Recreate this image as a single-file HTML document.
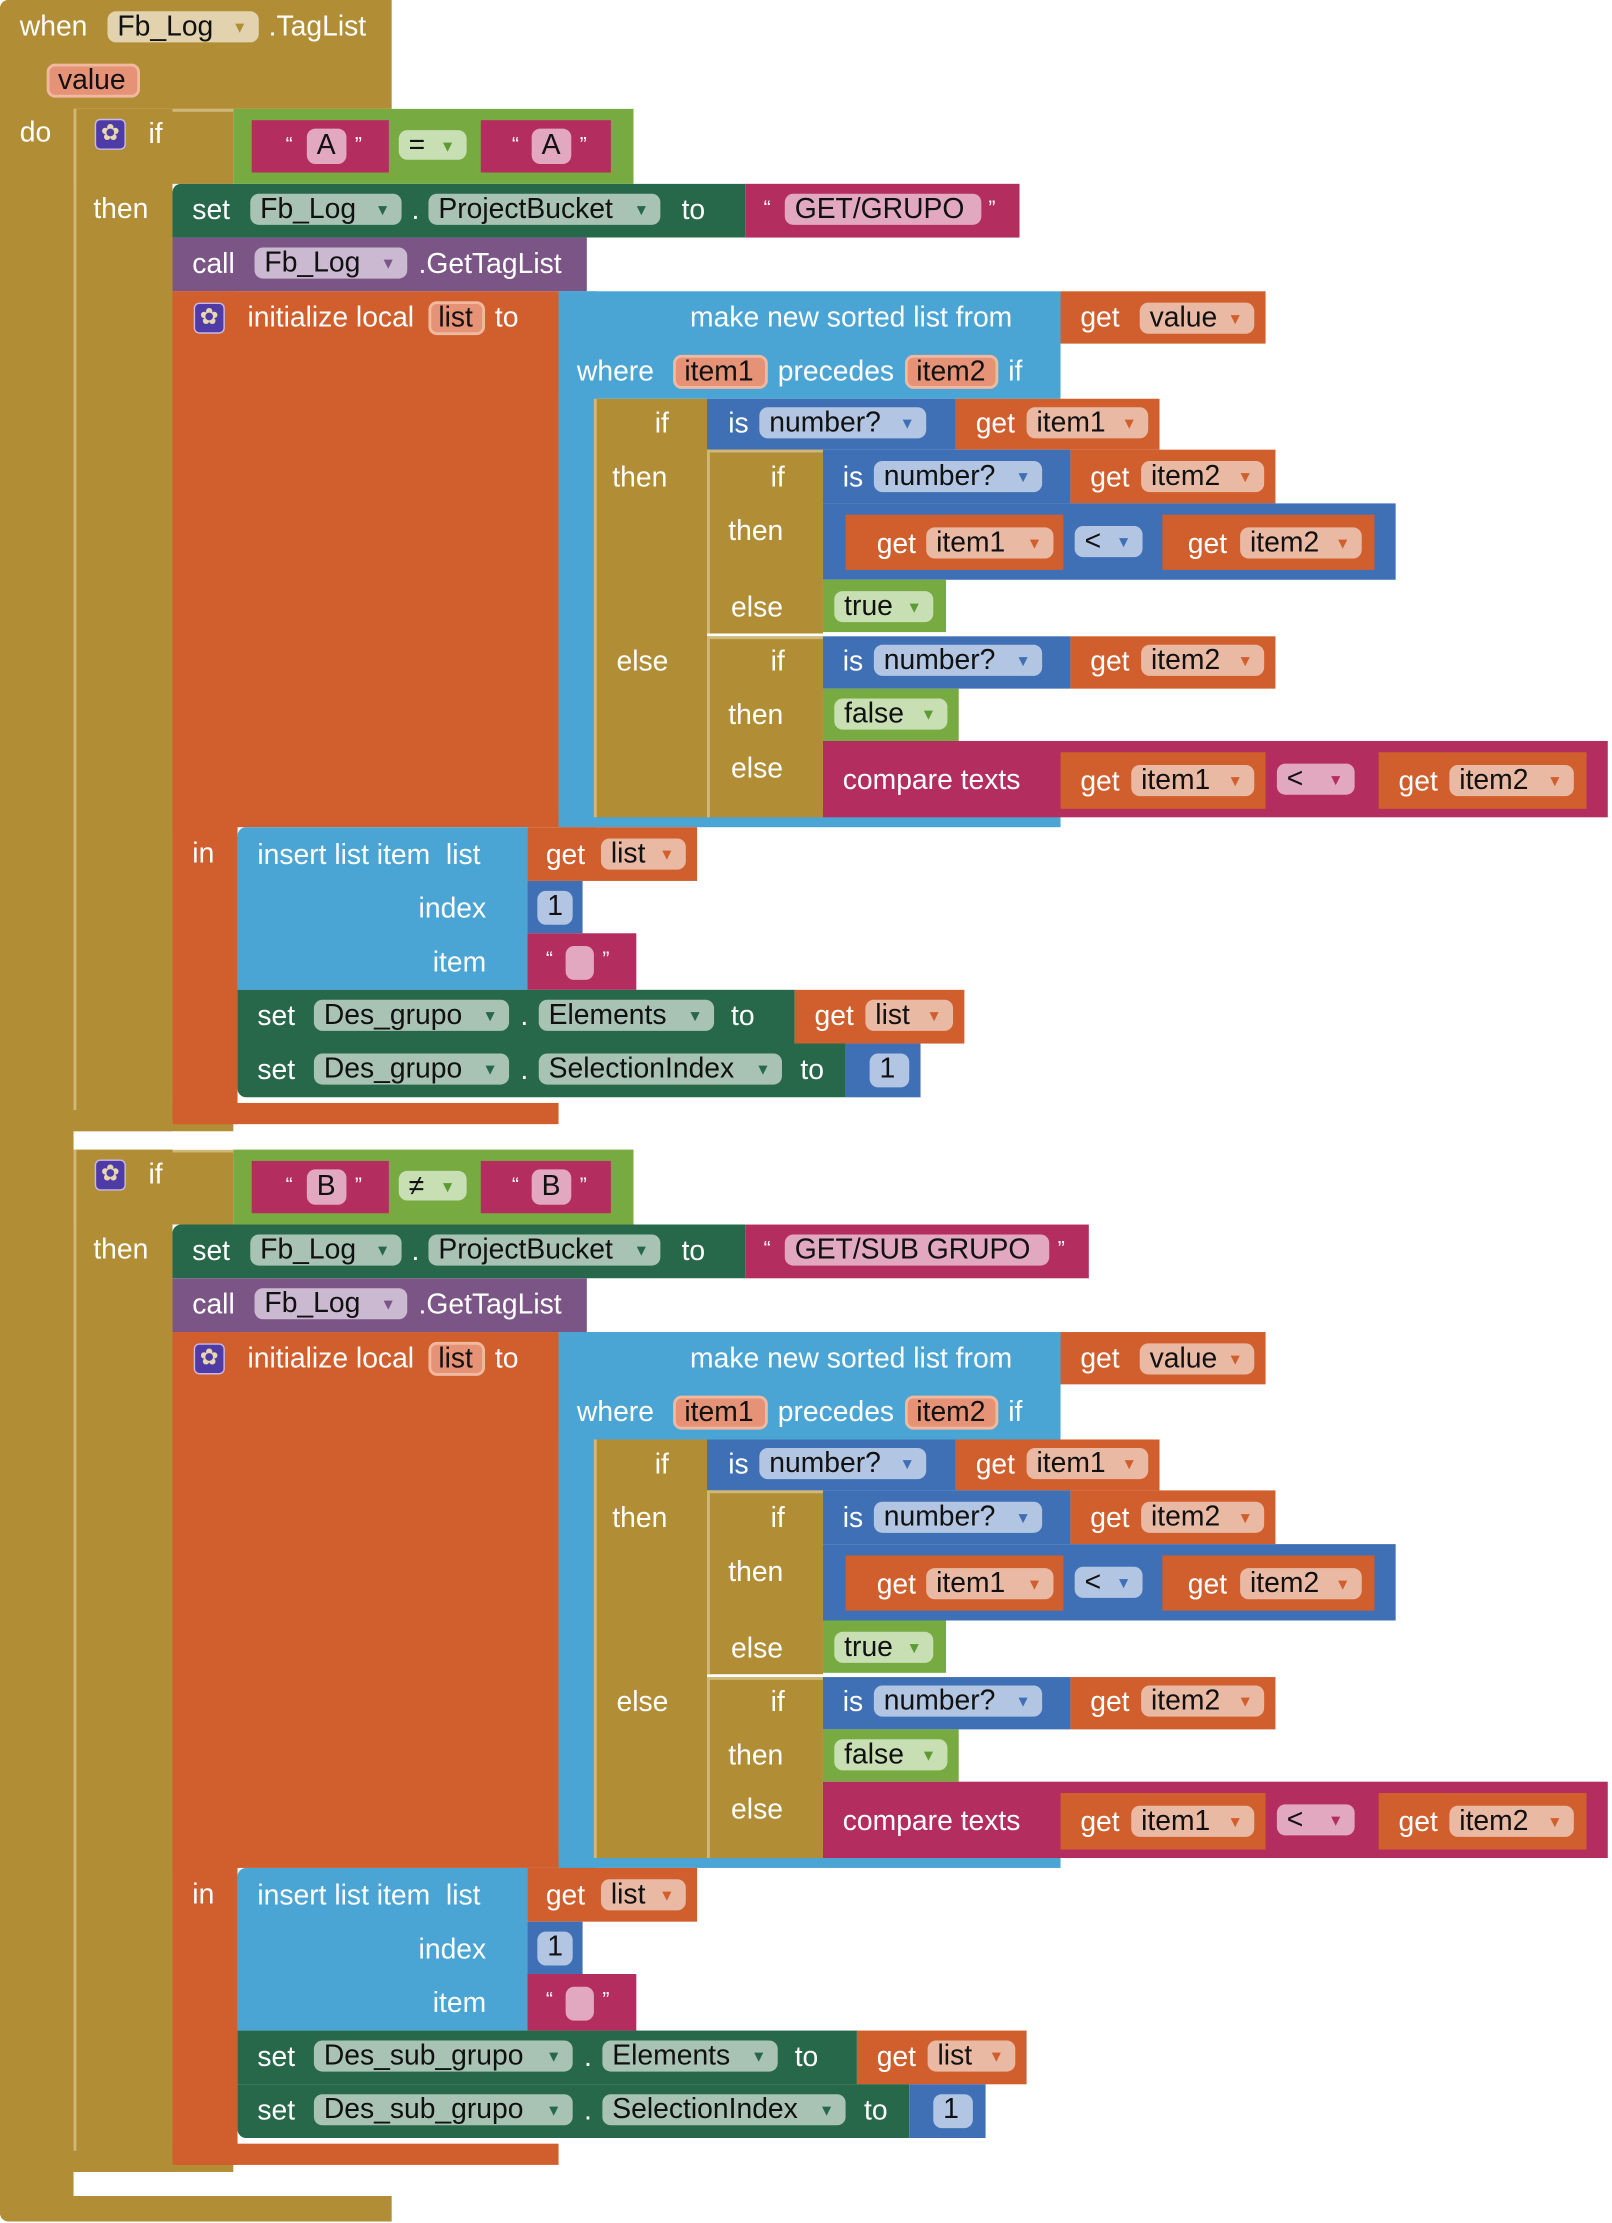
<!DOCTYPE html>
<html><head><meta charset="utf-8">
<style>
html,body{margin:0;padding:0;background:#fff;width:1612px;height:2222px;overflow:hidden}
#c{position:absolute;left:0;top:0;width:1140px;height:1572px;transform:scale(1.41404);transform-origin:0 0;font-family:"Liberation Sans",sans-serif}
.a{position:absolute}
.s{position:absolute;left:0;width:1140px;height:740px}
.t{position:absolute;color:#fff;font-size:20px;line-height:26px;white-space:nowrap}
.p{position:absolute;height:22px;border-radius:6px;color:#111;font-size:20px;line-height:23px;padding-left:7px;box-sizing:border-box;white-space:nowrap}
.p i{font-style:normal;font-size:11px;position:absolute;right:8px;top:1px}
.m{background:#B18E35}
.g{background:#77AB41}
.r{background:#B32D5E}
.dg{background:#27684A}
.pu{background:#7C5587}
.o{background:#D05F2D}
.lb{background:#4AA4D4}
.bl{background:#3F70B5}
.pg{background:#A8C3B4}
.pp{background:#CBB9D1}
.po{background:#EAB9A3}
.pb{background:#B2C6E3}
.pl{background:#C7DFB3}
.pr{background:#E2A8BF}
.gear{position:absolute;width:22px;height:22px;border-radius:4px;background:#4F3BA6;border:1px solid #C7B9E8;box-sizing:border-box;color:#E8D8B0;font-size:16px;line-height:20px;text-align:center}
</style></head><body>
<div id="c">
<div class="a m" style="left:0;top:0;width:277px;height:77px;border-radius:6px 0 0 0"></div>
<div class="a m" style="left:0;top:0;width:52px;height:1571px;border-radius:6px 0 0 6px"></div>
<div class="a m" style="left:0;top:1553px;width:277px;height:18px;border-radius:0 0 0 6px"></div>
<div class="t" style="left:14px;top:6px">when</div>
<div class="p" style="left:76px;top:8px;width:107px;background:#E2D3AE">Fb_Log<i style="color:#B18E35">▼</i></div>
<div class="t" style="left:190px;top:6px">.TagList</div>
<div class="p" style="left:33px;top:45px;width:66px;height:24px;background:#E59277;border:2px solid #F0B9A0;line-height:20px;padding-left:6px">value</div>
<div class="t" style="left:14px;top:81px">do</div>

<div class="s" style="top:77px">
<div class="a m" style="left:52px;top:0;width:113px;height:53px;border-left:2px solid #D0B878;border-top:2px solid #D0B878;box-sizing:border-box;border-radius:6px 0 0 0"></div>
<div class="a m" style="left:52px;top:0;width:70px;height:723px;border-left:2px solid #D0B878;box-sizing:border-box"></div>
<div class="a m" style="left:52px;top:708px;width:113px;height:15px"></div>
<div class="gear" style="left:67px;top:7px">✿</div>
<div class="t" style="left:105px;top:5px">if</div>
<div class="t" style="left:66px;top:58px">then</div>
<div class="a g" style="left:165px;top:0;width:283px;height:53px"></div>
<div class="a r" style="left:178px;top:8px;width:97px;height:37px"></div>
<div class="t" style="left:202px;top:13px;font-size:15px">“</div>
<div class="p pr" style="left:217px;top:14px;width:28px;height:25px;line-height:25px">A</div>
<div class="t" style="left:251px;top:13px;font-size:15px">”</div>
<div class="p pl" style="left:282px;top:15px;width:48px;height:21px">=<i style="color:#5C9A34">▼</i></div>
<div class="a r" style="left:340px;top:8px;width:92px;height:37px"></div>
<div class="t" style="left:362px;top:13px;font-size:15px">“</div>
<div class="p pr" style="left:376px;top:14px;width:28px;height:25px;line-height:25px">A</div>
<div class="t" style="left:410px;top:13px;font-size:15px">”</div>
<div class="a dg" style="left:122px;top:53px;width:405px;height:38px;border-radius:6px 0 0 0"></div>
<div class="t" style="left:136px;top:59px">set</div>
<div class="p pg" style="left:177px;top:60px;width:107px">Fb_Log<i style="color:#27684A">▼</i></div>
<div class="t" style="left:291px;top:59px">.</div>
<div class="p pg" style="left:303px;top:60px;width:164px">ProjectBucket<i style="color:#27684A">▼</i></div>
<div class="t" style="left:482px;top:59px">to</div>
<div class="a r" style="left:527px;top:53px;width:194px;height:38px"></div>
<div class="t" style="left:540px;top:58px;font-size:15px">“</div>
<div class="p pr" style="left:555px;top:60px;width:139px">GET/GRUPO</div>
<div class="t" style="left:699px;top:58px;font-size:15px">”</div>
<div class="a pu" style="left:122px;top:91px;width:293px;height:38px"></div>
<div class="t" style="left:136px;top:97px">call</div>
<div class="p pp" style="left:180px;top:98px;width:108px">Fb_Log<i style="color:#7C5587">▼</i></div>
<div class="t" style="left:296px;top:97px">.GetTagList</div>
<div class="a o" style="left:122px;top:129px;width:273px;height:379px"></div>
<div class="a o" style="left:122px;top:129px;width:46px;height:589px;border-radius:0 0 0 6px"></div>
<div class="a o" style="left:122px;top:703px;width:273px;height:15px"></div>
<div class="gear" style="left:137px;top:137px">✿</div>
<div class="t" style="left:175px;top:135px">initialize local</div>
<div class="p" style="left:303px;top:136px;width:40px;height:24px;background:#E59277;border:2px solid #F0B9A0;line-height:20px;padding-left:5px">list</div>
<div class="t" style="left:350px;top:135px">to</div>
<div class="a lb" style="left:395px;top:129px;width:355px;height:76px"></div>
<div class="a lb" style="left:395px;top:129px;width:27px;height:379px"></div>
<div class="a lb" style="left:395px;top:495px;width:355px;height:13px"></div>
<div class="t" style="left:488px;top:135px">make new sorted list from</div>
<div class="a o" style="left:750px;top:129px;width:145px;height:37px"></div>
<div class="t" style="left:764px;top:135px">get</div>
<div class="p po" style="left:806px;top:137px;width:81px">value<i style="color:#D05F2D">▼</i></div>
<div class="t" style="left:408px;top:173px">where</div>
<div class="p" style="left:476px;top:174px;width:67px;height:24px;background:#E59277;border:2px solid #F0B9A0;line-height:20px;padding-left:6px">item1</div>
<div class="t" style="left:550px;top:173px">precedes</div>
<div class="p" style="left:640px;top:174px;width:66px;height:24px;background:#E59277;border:2px solid #F0B9A0;line-height:20px;padding-left:6px">item2</div>
<div class="t" style="left:713px;top:173px">if</div>
<div class="a m" style="left:420px;top:205px;width:80px;height:296px;border-left:2px solid #D0B878;box-sizing:border-box"></div>
<div class="t" style="left:463px;top:210px">if</div>
<div class="t" style="left:433px;top:248px">then</div>
<div class="t" style="left:436px;top:378px">else</div>
<div class="a bl" style="left:500px;top:205px;width:176px;height:36px"></div>
<div class="t" style="left:515px;top:210px">is</div>
<div class="p pb" style="left:537px;top:211px;width:118px">number?<i style="color:#3F70B5">▼</i></div>
<div class="a o" style="left:676px;top:205px;width:144px;height:36px"></div>
<div class="t" style="left:690px;top:210px">get</div>
<div class="p po" style="left:726px;top:211px;width:86px">item1<i style="color:#D05F2D">▼</i></div>
<div class="a m" style="left:500px;top:241px;width:82px;height:130px;border-left:2px solid #D0B878;border-top:2px solid #D0B878;box-sizing:border-box"></div>
<div class="a m" style="left:500px;top:373px;width:82px;height:128px;border-left:2px solid #D0B878;border-top:2px solid #D0B878;box-sizing:border-box"></div>
<div class="t" style="left:545px;top:248px">if</div>
<div class="t" style="left:515px;top:286px">then</div>
<div class="t" style="left:517px;top:340px">else</div>
<div class="t" style="left:545px;top:378px">if</div>
<div class="t" style="left:515px;top:416px">then</div>
<div class="t" style="left:517px;top:454px">else</div>
<div class="a bl" style="left:582px;top:241px;width:175px;height:38px"></div>
<div class="t" style="left:596px;top:248px">is</div>
<div class="p pb" style="left:618px;top:249px;width:119px">number?<i style="color:#3F70B5">▼</i></div>
<div class="a o" style="left:757px;top:241px;width:145px;height:38px"></div>
<div class="t" style="left:771px;top:248px">get</div>
<div class="p po" style="left:807px;top:249px;width:87px">item2<i style="color:#D05F2D">▼</i></div>
<div class="a bl" style="left:582px;top:279px;width:405px;height:54px"></div>
<div class="a o" style="left:598px;top:287px;width:154px;height:39px"></div>
<div class="t" style="left:620px;top:295px">get</div>
<div class="p po" style="left:655px;top:296px;width:90px">item1<i style="color:#D05F2D">▼</i></div>
<div class="p pb" style="left:760px;top:295px;width:48px">&lt;<i style="color:#3F70B5">▼</i></div>
<div class="a o" style="left:822px;top:287px;width:150px;height:39px"></div>
<div class="t" style="left:840px;top:295px">get</div>
<div class="p po" style="left:877px;top:296px;width:86px">item2<i style="color:#D05F2D">▼</i></div>
<div class="a g" style="left:582px;top:333px;width:87px;height:37px"></div>
<div class="p pl" style="left:590px;top:341px;width:70px">true<i style="color:#5C9A34">▼</i></div>
<div class="a bl" style="left:582px;top:373px;width:175px;height:37px"></div>
<div class="t" style="left:596px;top:378px">is</div>
<div class="p pb" style="left:618px;top:379px;width:119px">number?<i style="color:#3F70B5">▼</i></div>
<div class="a o" style="left:757px;top:373px;width:145px;height:37px"></div>
<div class="t" style="left:771px;top:378px">get</div>
<div class="p po" style="left:807px;top:379px;width:87px">item2<i style="color:#D05F2D">▼</i></div>
<div class="a g" style="left:582px;top:410px;width:96px;height:37px"></div>
<div class="p pl" style="left:590px;top:417px;width:80px">false<i style="color:#5C9A34">▼</i></div>
<div class="a r" style="left:582px;top:447px;width:555px;height:54px"></div>
<div class="t" style="left:596px;top:462px">compare texts</div>
<div class="a o" style="left:750px;top:455px;width:145px;height:40px"></div>
<div class="t" style="left:764px;top:463px">get</div>
<div class="p po" style="left:800px;top:464px;width:87px">item1<i style="color:#D05F2D">▼</i></div>
<div class="p pr" style="left:903px;top:463px;width:55px">&lt;<i style="color:#B32D5E">▼</i></div>
<div class="a o" style="left:975px;top:455px;width:147px;height:40px"></div>
<div class="t" style="left:989px;top:463px">get</div>
<div class="p po" style="left:1025px;top:464px;width:88px">item2<i style="color:#D05F2D">▼</i></div>
<div class="t" style="left:136px;top:514px">in</div>
<div class="a lb" style="left:168px;top:508px;width:205px;height:115px;border-radius:6px 0 0 0"></div>
<div class="t" style="left:182px;top:515px">insert list item&nbsp; list</div>
<div class="a o" style="left:373px;top:508px;width:120px;height:38px"></div>
<div class="t" style="left:386px;top:515px">get</div>
<div class="p po" style="left:425px;top:516px;width:60px">list<i style="color:#D05F2D">▼</i></div>
<div class="t" style="left:296px;top:553px">index</div>
<div class="a bl" style="left:373px;top:546px;width:39px;height:37px"></div>
<div class="p pb" style="left:380px;top:553px;width:25px;height:24px">1</div>
<div class="t" style="left:306px;top:591px">item</div>
<div class="a r" style="left:373px;top:583px;width:77px;height:40px"></div>
<div class="t" style="left:386px;top:589px;font-size:15px">“</div>
<div class="p pr" style="left:400px;top:592px;width:20px;height:24px"></div>
<div class="t" style="left:426px;top:589px;font-size:15px">”</div>
<div class="a dg" style="left:168px;top:623px;width:394px;height:38px"></div>
<div class="t" style="left:182px;top:629px">set</div>
<div class="p pg" style="left:222px;top:630px;width:138px">Des_grupo<i style="color:#27684A">▼</i></div>
<div class="t" style="left:368px;top:629px">.</div>
<div class="p pg" style="left:381px;top:630px;width:124px">Elements<i style="color:#27684A">▼</i></div>
<div class="t" style="left:517px;top:629px">to</div>
<div class="a o" style="left:562px;top:623px;width:120px;height:38px"></div>
<div class="t" style="left:576px;top:629px">get</div>
<div class="p po" style="left:612px;top:630px;width:62px">list<i style="color:#D05F2D">▼</i></div>
<div class="a dg" style="left:168px;top:661px;width:430px;height:38px;border-radius:0 0 0 6px"></div>
<div class="t" style="left:182px;top:667px">set</div>
<div class="p pg" style="left:222px;top:668px;width:138px">Des_grupo<i style="color:#27684A">▼</i></div>
<div class="t" style="left:368px;top:667px">.</div>
<div class="p pg" style="left:381px;top:668px;width:172px">SelectionIndex<i style="color:#27684A">▼</i></div>
<div class="t" style="left:566px;top:667px">to</div>
<div class="a bl" style="left:598px;top:661px;width:53px;height:38px"></div>
<div class="p pb" style="left:615px;top:668px;width:28px;height:24px">1</div>
</div>

<div class="s" style="top:813px">
<div class="a m" style="left:52px;top:0;width:113px;height:53px;border-left:2px solid #D0B878;border-top:2px solid #D0B878;box-sizing:border-box;border-radius:6px 0 0 0"></div>
<div class="a m" style="left:52px;top:0;width:70px;height:723px;border-left:2px solid #D0B878;box-sizing:border-box"></div>
<div class="a m" style="left:52px;top:708px;width:113px;height:15px"></div>
<div class="gear" style="left:67px;top:7px">✿</div>
<div class="t" style="left:105px;top:5px">if</div>
<div class="t" style="left:66px;top:58px">then</div>
<div class="a g" style="left:165px;top:0;width:283px;height:53px"></div>
<div class="a r" style="left:178px;top:8px;width:97px;height:37px"></div>
<div class="t" style="left:202px;top:13px;font-size:15px">“</div>
<div class="p pr" style="left:217px;top:14px;width:28px;height:25px;line-height:25px">B</div>
<div class="t" style="left:251px;top:13px;font-size:15px">”</div>
<div class="p pl" style="left:282px;top:15px;width:48px;height:21px">≠<i style="color:#5C9A34">▼</i></div>
<div class="a r" style="left:340px;top:8px;width:92px;height:37px"></div>
<div class="t" style="left:362px;top:13px;font-size:15px">“</div>
<div class="p pr" style="left:376px;top:14px;width:28px;height:25px;line-height:25px">B</div>
<div class="t" style="left:410px;top:13px;font-size:15px">”</div>
<div class="a dg" style="left:122px;top:53px;width:405px;height:38px;border-radius:6px 0 0 0"></div>
<div class="t" style="left:136px;top:59px">set</div>
<div class="p pg" style="left:177px;top:60px;width:107px">Fb_Log<i style="color:#27684A">▼</i></div>
<div class="t" style="left:291px;top:59px">.</div>
<div class="p pg" style="left:303px;top:60px;width:164px">ProjectBucket<i style="color:#27684A">▼</i></div>
<div class="t" style="left:482px;top:59px">to</div>
<div class="a r" style="left:527px;top:53px;width:243px;height:38px"></div>
<div class="t" style="left:540px;top:58px;font-size:15px">“</div>
<div class="p pr" style="left:555px;top:60px;width:187px">GET/SUB GRUPO</div>
<div class="t" style="left:748px;top:58px;font-size:15px">”</div>
<div class="a pu" style="left:122px;top:91px;width:293px;height:38px"></div>
<div class="t" style="left:136px;top:97px">call</div>
<div class="p pp" style="left:180px;top:98px;width:108px">Fb_Log<i style="color:#7C5587">▼</i></div>
<div class="t" style="left:296px;top:97px">.GetTagList</div>
<div class="a o" style="left:122px;top:129px;width:273px;height:379px"></div>
<div class="a o" style="left:122px;top:129px;width:46px;height:589px;border-radius:0 0 0 6px"></div>
<div class="a o" style="left:122px;top:703px;width:273px;height:15px"></div>
<div class="gear" style="left:137px;top:137px">✿</div>
<div class="t" style="left:175px;top:135px">initialize local</div>
<div class="p" style="left:303px;top:136px;width:40px;height:24px;background:#E59277;border:2px solid #F0B9A0;line-height:20px;padding-left:5px">list</div>
<div class="t" style="left:350px;top:135px">to</div>
<div class="a lb" style="left:395px;top:129px;width:355px;height:76px"></div>
<div class="a lb" style="left:395px;top:129px;width:27px;height:379px"></div>
<div class="a lb" style="left:395px;top:495px;width:355px;height:13px"></div>
<div class="t" style="left:488px;top:135px">make new sorted list from</div>
<div class="a o" style="left:750px;top:129px;width:145px;height:37px"></div>
<div class="t" style="left:764px;top:135px">get</div>
<div class="p po" style="left:806px;top:137px;width:81px">value<i style="color:#D05F2D">▼</i></div>
<div class="t" style="left:408px;top:173px">where</div>
<div class="p" style="left:476px;top:174px;width:67px;height:24px;background:#E59277;border:2px solid #F0B9A0;line-height:20px;padding-left:6px">item1</div>
<div class="t" style="left:550px;top:173px">precedes</div>
<div class="p" style="left:640px;top:174px;width:66px;height:24px;background:#E59277;border:2px solid #F0B9A0;line-height:20px;padding-left:6px">item2</div>
<div class="t" style="left:713px;top:173px">if</div>
<div class="a m" style="left:420px;top:205px;width:80px;height:296px;border-left:2px solid #D0B878;box-sizing:border-box"></div>
<div class="t" style="left:463px;top:210px">if</div>
<div class="t" style="left:433px;top:248px">then</div>
<div class="t" style="left:436px;top:378px">else</div>
<div class="a bl" style="left:500px;top:205px;width:176px;height:36px"></div>
<div class="t" style="left:515px;top:210px">is</div>
<div class="p pb" style="left:537px;top:211px;width:118px">number?<i style="color:#3F70B5">▼</i></div>
<div class="a o" style="left:676px;top:205px;width:144px;height:36px"></div>
<div class="t" style="left:690px;top:210px">get</div>
<div class="p po" style="left:726px;top:211px;width:86px">item1<i style="color:#D05F2D">▼</i></div>
<div class="a m" style="left:500px;top:241px;width:82px;height:130px;border-left:2px solid #D0B878;border-top:2px solid #D0B878;box-sizing:border-box"></div>
<div class="a m" style="left:500px;top:373px;width:82px;height:128px;border-left:2px solid #D0B878;border-top:2px solid #D0B878;box-sizing:border-box"></div>
<div class="t" style="left:545px;top:248px">if</div>
<div class="t" style="left:515px;top:286px">then</div>
<div class="t" style="left:517px;top:340px">else</div>
<div class="t" style="left:545px;top:378px">if</div>
<div class="t" style="left:515px;top:416px">then</div>
<div class="t" style="left:517px;top:454px">else</div>
<div class="a bl" style="left:582px;top:241px;width:175px;height:38px"></div>
<div class="t" style="left:596px;top:248px">is</div>
<div class="p pb" style="left:618px;top:249px;width:119px">number?<i style="color:#3F70B5">▼</i></div>
<div class="a o" style="left:757px;top:241px;width:145px;height:38px"></div>
<div class="t" style="left:771px;top:248px">get</div>
<div class="p po" style="left:807px;top:249px;width:87px">item2<i style="color:#D05F2D">▼</i></div>
<div class="a bl" style="left:582px;top:279px;width:405px;height:54px"></div>
<div class="a o" style="left:598px;top:287px;width:154px;height:39px"></div>
<div class="t" style="left:620px;top:295px">get</div>
<div class="p po" style="left:655px;top:296px;width:90px">item1<i style="color:#D05F2D">▼</i></div>
<div class="p pb" style="left:760px;top:295px;width:48px">&lt;<i style="color:#3F70B5">▼</i></div>
<div class="a o" style="left:822px;top:287px;width:150px;height:39px"></div>
<div class="t" style="left:840px;top:295px">get</div>
<div class="p po" style="left:877px;top:296px;width:86px">item2<i style="color:#D05F2D">▼</i></div>
<div class="a g" style="left:582px;top:333px;width:87px;height:37px"></div>
<div class="p pl" style="left:590px;top:341px;width:70px">true<i style="color:#5C9A34">▼</i></div>
<div class="a bl" style="left:582px;top:373px;width:175px;height:37px"></div>
<div class="t" style="left:596px;top:378px">is</div>
<div class="p pb" style="left:618px;top:379px;width:119px">number?<i style="color:#3F70B5">▼</i></div>
<div class="a o" style="left:757px;top:373px;width:145px;height:37px"></div>
<div class="t" style="left:771px;top:378px">get</div>
<div class="p po" style="left:807px;top:379px;width:87px">item2<i style="color:#D05F2D">▼</i></div>
<div class="a g" style="left:582px;top:410px;width:96px;height:37px"></div>
<div class="p pl" style="left:590px;top:417px;width:80px">false<i style="color:#5C9A34">▼</i></div>
<div class="a r" style="left:582px;top:447px;width:555px;height:54px"></div>
<div class="t" style="left:596px;top:462px">compare texts</div>
<div class="a o" style="left:750px;top:455px;width:145px;height:40px"></div>
<div class="t" style="left:764px;top:463px">get</div>
<div class="p po" style="left:800px;top:464px;width:87px">item1<i style="color:#D05F2D">▼</i></div>
<div class="p pr" style="left:903px;top:463px;width:55px">&lt;<i style="color:#B32D5E">▼</i></div>
<div class="a o" style="left:975px;top:455px;width:147px;height:40px"></div>
<div class="t" style="left:989px;top:463px">get</div>
<div class="p po" style="left:1025px;top:464px;width:88px">item2<i style="color:#D05F2D">▼</i></div>
<div class="t" style="left:136px;top:514px">in</div>
<div class="a lb" style="left:168px;top:508px;width:205px;height:115px;border-radius:6px 0 0 0"></div>
<div class="t" style="left:182px;top:515px">insert list item&nbsp; list</div>
<div class="a o" style="left:373px;top:508px;width:120px;height:38px"></div>
<div class="t" style="left:386px;top:515px">get</div>
<div class="p po" style="left:425px;top:516px;width:60px">list<i style="color:#D05F2D">▼</i></div>
<div class="t" style="left:296px;top:553px">index</div>
<div class="a bl" style="left:373px;top:546px;width:39px;height:37px"></div>
<div class="p pb" style="left:380px;top:553px;width:25px;height:24px">1</div>
<div class="t" style="left:306px;top:591px">item</div>
<div class="a r" style="left:373px;top:583px;width:77px;height:40px"></div>
<div class="t" style="left:386px;top:589px;font-size:15px">“</div>
<div class="p pr" style="left:400px;top:592px;width:20px;height:24px"></div>
<div class="t" style="left:426px;top:589px;font-size:15px">”</div>
<div class="a dg" style="left:168px;top:623px;width:438px;height:38px"></div>
<div class="t" style="left:182px;top:629px">set</div>
<div class="p pg" style="left:222px;top:630px;width:183px">Des_sub_grupo<i style="color:#27684A">▼</i></div>
<div class="t" style="left:413px;top:629px">.</div>
<div class="p pg" style="left:426px;top:630px;width:124px">Elements<i style="color:#27684A">▼</i></div>
<div class="t" style="left:562px;top:629px">to</div>
<div class="a o" style="left:606px;top:623px;width:120px;height:38px"></div>
<div class="t" style="left:620px;top:629px">get</div>
<div class="p po" style="left:656px;top:630px;width:62px">list<i style="color:#D05F2D">▼</i></div>
<div class="a dg" style="left:168px;top:661px;width:475px;height:38px;border-radius:0 0 0 6px"></div>
<div class="t" style="left:182px;top:667px">set</div>
<div class="p pg" style="left:222px;top:668px;width:183px">Des_sub_grupo<i style="color:#27684A">▼</i></div>
<div class="t" style="left:413px;top:667px">.</div>
<div class="p pg" style="left:426px;top:668px;width:172px">SelectionIndex<i style="color:#27684A">▼</i></div>
<div class="t" style="left:611px;top:667px">to</div>
<div class="a bl" style="left:643px;top:661px;width:54px;height:38px"></div>
<div class="p pb" style="left:660px;top:668px;width:28px;height:24px">1</div>
</div>
</div>
</body></html>
